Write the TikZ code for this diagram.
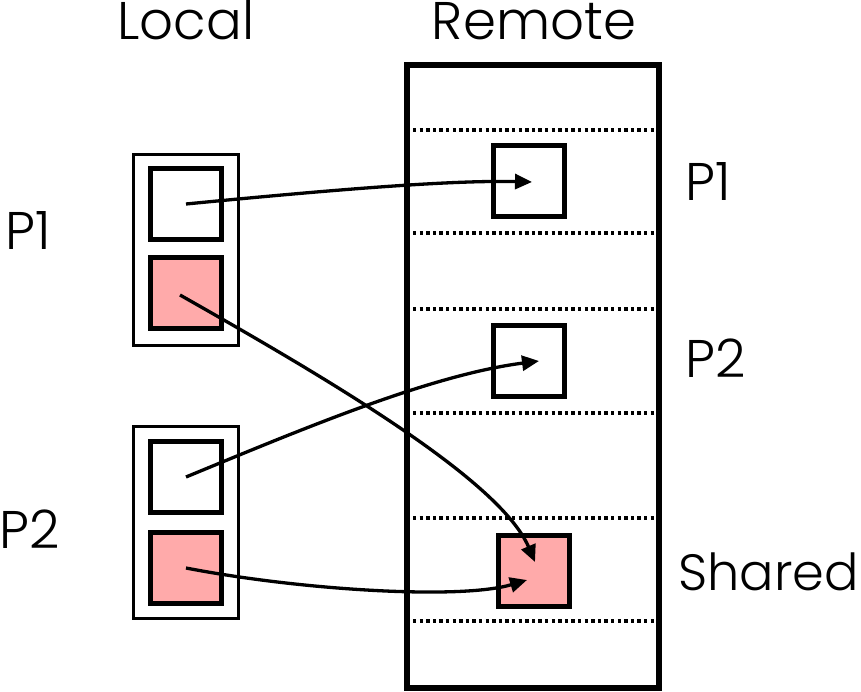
\documentclass[tikz,border=0pt]{standalone}
\usepackage{fontspec}
\setmainfont{Poppins Light}
\usetikzlibrary{arrows.meta}
\definecolor{pinkfill}{HTML}{FFAAAA}
\begin{document}
\begin{tikzpicture}[x=1pt,y=-1pt,
  lbl/.style={inner sep=0pt,font=\fontsize{53}{60}\selectfont},
  cell/.style={draw,line width=5.5pt,minimum size=71pt,inner sep=0pt},
  pinkcell/.style={cell,fill=pinkfill},
  group/.style={draw,line width=3.2pt},
  sep/.style={line width=3.4pt,dash pattern=on 3.4pt off 3.2pt},
  conn/.style={line width=3.3pt,-{Triangle[length=17pt,width=15pt]}}]
\useasboundingbox (0,0) rectangle (861,692);
% remote column
\draw[line width=5.5pt] (407,65) rectangle (659,688);
\foreach \yy in {130,233,309,413,518,621}
  \draw[sep] (413,\yy) -- (656,\yy);
\node[cell] (rp1) at (529,181) {};
\node[cell] (rp2) at (529,361) {};
\node[pinkcell] (rsh) at (534,571) {};
% local groups
\draw[group] (133.5,154.5) rectangle (238.5,345.5);
\draw[group] (133.5,426.5) rectangle (238.5,618.5);
\node[cell] (lw1) at (186,204) {};
\node[pinkcell] (lp1) at (186,293) {};
\node[cell] (lw2) at (186,477) {};
\node[pinkcell] (lp2) at (186,568) {};
% labels
\node[lbl,anchor=base] (tlocal) at (186,40) {Local};
\node[lbl,anchor=base] (tremote) at (534,40) {Remote};
\node[lbl,anchor=base west] (tp1l) at (5,250) {P1};
\node[lbl,anchor=base west] (tp2l) at (-1,548) {P2};
\node[lbl,anchor=base west] (tp1r) at (685,201) {P1};
\node[lbl,anchor=base west] (tp2r) at (685,377) {P2};
\node[lbl,anchor=base east,font=\fontsize{51}{60}\selectfont] (tsh) at (859,590) {Shared};
% arrow targets
\coordinate (t1) at ([shift={(3,1)}]rp1.center);
\coordinate (t2) at ([shift={(10,0)}]rp2.center);
\coordinate (t3) at ([shift={(1,-9)}]rsh.center);
\coordinate (t4) at ([shift={(-7,9)}]rsh.center);
\coordinate (s2) at ([shift={(-6,2)}]lp1.center);
% connectors
\draw[conn] (lw1.center) .. controls (330,190) and (450,180) .. (t1);
\draw[conn] (s2) .. controls (330,380) and (500,480) .. (t3);
\draw[conn] (lw2.center) .. controls (300,430) and (430,375) .. (t2);
\draw[conn] (lp2.center) .. controls (300,590) and (460,600) .. (t4);
\end{tikzpicture}
\end{document}
